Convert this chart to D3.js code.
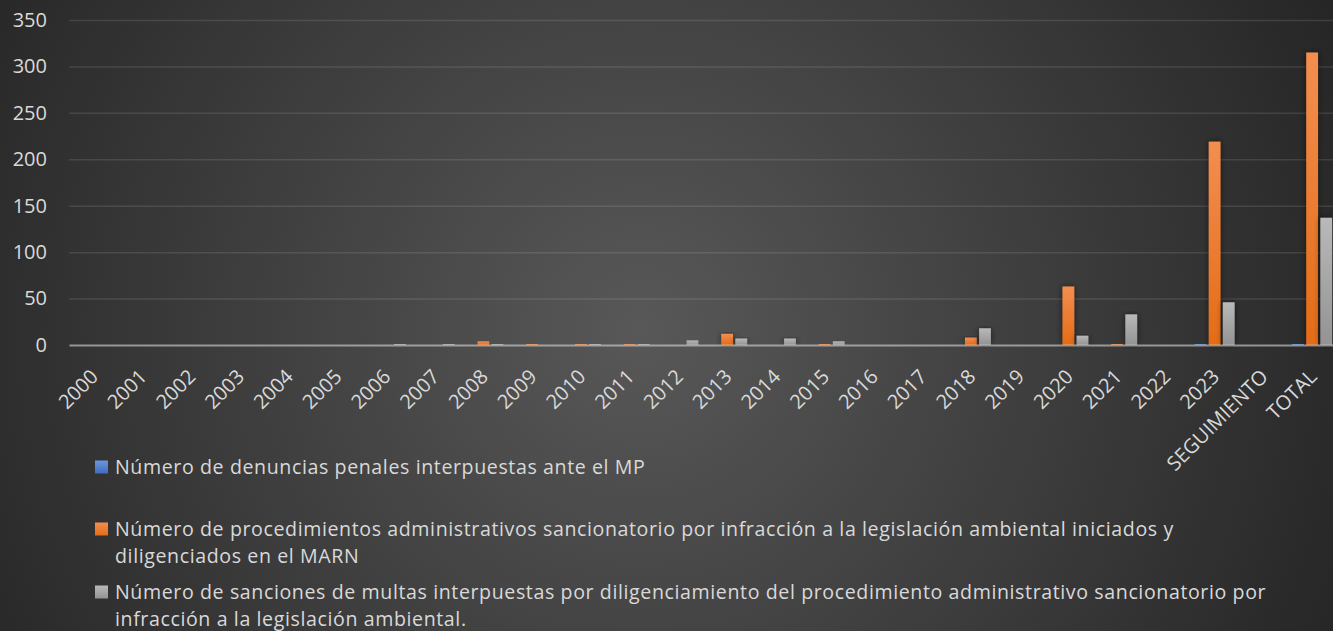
<!DOCTYPE html>
<html>
<head>
<meta charset="utf-8">
<script src="https://cdn.jsdelivr.net/npm/d3@7"></script>
<style>
  html, body { margin: 0; padding: 0; background: #2a2a2a; }
  svg { display: block; }
  text { font-family: "Open Sans", sans-serif; fill: #d9d9d9; }
</style>
</head>
<body>
<svg id="chart" width="1333" height="631"></svg>
<script>
// ---- data ----
const categories = ["2000","2001","2002","2003","2004","2005","2006","2007","2008","2009","2010","2011","2012","2013","2014","2015","2016","2017","2018","2019","2020","2021","2022","2023","SEGUIMIENTO","TOTAL"];
const seriesNames = [
  "Número de denuncias penales interpuestas ante el MP",
  "Número de procedimientos administrativos sancionatorio por infracción a la legislación ambiental iniciados y diligenciados en el MARN",
  "Número de sanciones de multas interpuestas por diligenciamiento del procedimiento administrativo sancionatorio por infracción a la legislación ambiental."
];
const legendLines = [
  ["Número de denuncias penales interpuestas ante el MP"],
  ["Número de procedimientos administrativos sancionatorio por infracción a la legislación ambiental iniciados y", "diligenciados en el MARN"],
  ["Número de sanciones de multas interpuestas por diligenciamiento del procedimiento administrativo sancionatorio por", "infracción a la legislación ambiental."]
];
const denuncias     = [0,0,0,0,0,0,0,0,0,0,0,0,0,0,0,0,0,0,0,0,0,0,0,1,0,1];
const procedimientos= [0,0,0,0,0,0,0,0,4,1,1,1,0,12,0,1,0,0,8,0,63,1,0,219,0,315];
const sanciones     = [0,0,0,0,0,0,1,1,1,0,1,1,5,7,7,4,0,0,18,0,10,33,0,46,0,137];
const yTicks = [0,50,100,150,200,250,300,350];

// ---- layout ----
const W = 1333, H = 631;
const plotLeft = 69, band = 48.75;
const plotRight = plotLeft + band * categories.length;
const yTop = 20, yBottom = 345;

const svg = d3.select("#chart");
const defs = svg.append("defs");

const bg = defs.append("radialGradient").attr("id","bg")
  .attr("gradientUnits","userSpaceOnUse").attr("cx", 640).attr("cy", 330).attr("r", 760);
bg.append("stop").attr("offset","0%").attr("stop-color","#585858");
bg.append("stop").attr("offset","100%").attr("stop-color","#262626");

const colors = [
  ["#6f96dc","#3f6cc0"],
  ["#f38e50","#e46c16"],
  ["#b9b9b9","#939393"]
];
colors.forEach((c,i) => {
  const g = defs.append("linearGradient").attr("id","g"+i).attr("x1",0).attr("y1",0).attr("x2",0).attr("y2",1);
  g.append("stop").attr("offset","0%").attr("stop-color",c[0]);
  g.append("stop").attr("offset","100%").attr("stop-color",c[1]);
});
const f = defs.append("filter").attr("id","sh").attr("x","-50%").attr("y","-10%").attr("width","200%").attr("height","120%");
f.append("feDropShadow").attr("dx",0).attr("dy",0).attr("stdDeviation",3).attr("flood-color","#000").attr("flood-opacity",0.55);

svg.append("rect").attr("width",W).attr("height",H).attr("fill","url(#bg)");

const x0 = d3.scaleBand().domain(categories).range([plotLeft, plotRight]).paddingInner(0).paddingOuter(0);
const x1 = d3.scaleBand().domain([0,1,2]).range([-20, 20]).paddingInner(0.165);
const y = d3.scaleLinear().domain([0, 350]).range([yBottom, yTop]);

// gridlines + y labels
const yAxis = svg.append("g").attr("transform", `translate(${plotLeft},0)`)
  .call(d3.axisLeft(y).tickValues(yTicks).tickSize(-(plotRight - plotLeft)).tickPadding(22).tickFormat(d3.format("d")));
yAxis.select(".domain").remove();
yAxis.selectAll(".tick line").attr("stroke","#ffffff").attr("stroke-opacity",0.11).attr("stroke-width",1.5)
  .filter(d => d === 0).remove();
yAxis.selectAll(".tick text").attr("font-size", 20).style("fill","#d9d9d9").attr("font-family","Open Sans, sans-serif");

// bars
const seriesData = [denuncias, procedimientos, sanciones];
const rows = categories.map((c,i) => ({cat:c, vals: seriesData.map(s => s[i])}));
const groups = svg.append("g").selectAll("g").data(rows).join("g")
  .attr("transform", d => `translate(${x0(d.cat) + x0.bandwidth()/2},0)`);
groups.selectAll("rect").data(d => d.vals.map((v,k) => ({v,k}))).join("rect")
  .filter(d => d.v > 0)
  .attr("x", d => x1(d.k))
  .attr("width", x1.bandwidth())
  .attr("y", d => y(d.v))
  .attr("height", d => y(0) - y(d.v))
  .attr("fill", d => `url(#g${d.k})`)
  .attr("filter", d => d.v > 5 ? "url(#sh)" : null);

// x axis
const xAxis = svg.append("g").attr("transform", `translate(0,${yBottom})`)
  .call(d3.axisBottom(x0).tickSize(0).tickSizeOuter(0));
xAxis.select(".domain").attr("stroke","#d9d9d9").attr("stroke-opacity",0.6).attr("stroke-width",2);
xAxis.selectAll(".tick text")
  .attr("font-size", 20).style("fill","#d9d9d9").attr("font-family","Open Sans, sans-serif")
  .attr("x",0).attr("y",0).attr("dy","0.35em")
  .attr("transform","translate(1,28) rotate(-45)")
  .style("text-anchor","end");

// legend
const legendY = [[467],[529,556.5],[592,619.5]];
const lg = svg.append("g");
legendLines.forEach((lines,i) => {
  lg.append("rect").attr("x",95).attr("y",legendY[i][0]-6.5).attr("width",13).attr("height",13)
    .attr("fill",`url(#g${i})`);
  lines.forEach((ln,j) => {
    lg.append("text").attr("font-size",19.6).attr("letter-spacing","0.6px")
      .attr("x",115).attr("y",legendY[i][j]).attr("dy","0.35em").text(ln);
  });
});
</script>
</body>
</html>
